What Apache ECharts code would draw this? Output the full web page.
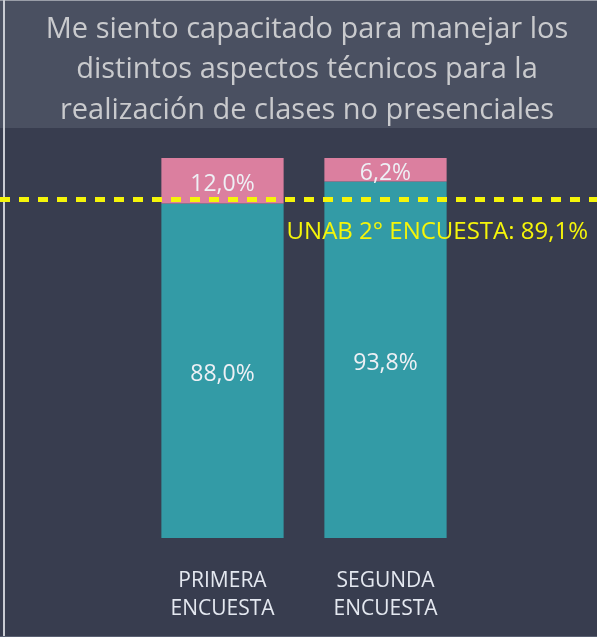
<!DOCTYPE html>
<html>
<head>
<meta charset="utf-8">
<script src="https://cdn.jsdelivr.net/npm/echarts@6/dist/echarts.min.js"></script>
<style>
  html, body { margin: 0; padding: 0; background: #383d4f; }
  #main { width: 597px; height: 637px; }
</style>
</head>
<body>
<div id="main"></div>
<script>
var categories = ['PRIMERA\nENCUESTA', 'SEGUNDA\nENCUESTA'];
var agreeValues = [88.0, 93.8];
var restValues = [12.0, 6.2];
var unabValue = 89.1;
var unabLabel = 'UNAB 2° ENCUESTA: ';

function pct(v) {
  return v.toFixed(1).replace('.', ',') + '%';
}

var chart = echarts.init(document.getElementById('main'));
var option = {
  backgroundColor: '#383d4f',
  textStyle: { fontFamily: 'Open Sans' },
  title: {
    text: 'Me siento capacitado para manejar los\ndistintos aspectos técnicos para la\nrealización de clases no presenciales',
    left: 302,
    top: 4,
    textAlign: 'center',
    textStyle: {
      color: '#c9cacd',
      fontSize: 29,
      fontWeight: 'normal',
      lineHeight: 40.5,
      fontFamily: 'Open Sans'
    }
  },
  graphic: [
    { type: 'rect', z: -10, shape: { x: 0, y: 0, width: 597, height: 128 }, style: { fill: '#4a5061' } },
    { type: 'rect', z: -5, shape: { x: 0, y: 0, width: 597, height: 1 }, style: { fill: '#9a9ea8' } },
    { type: 'rect', z: -5, shape: { x: 3, y: 0, width: 2, height: 637 }, style: { fill: '#c9ccd3' } },
    { type: 'rect', z: -5, shape: { x: 0, y: 636, width: 597, height: 1 }, style: { fill: '#5a6072' } }
  ],
  grid: [
    { left: 141, width: 326, top: 158, bottom: 99 },
    { left: 0, right: 0, top: 158, bottom: 99 }
  ],
  xAxis: [{
    type: 'category',
    gridIndex: 0,
    data: categories,
    axisLine: { show: false },
    axisTick: { show: false },
    axisLabel: {
      color: '#e4e8f0',
      fontSize: 21,
      lineHeight: 28,
      margin: 29
    }
  }, {
    type: 'category',
    gridIndex: 1,
    data: ['a'],
    show: false
  }],
  yAxis: [{
    type: 'value',
    gridIndex: 0,
    min: 0,
    max: 100,
    show: false
  }, {
    type: 'value',
    gridIndex: 1,
    min: 0,
    max: 100,
    show: false
  }],
  series: [{
    type: 'bar',
    stack: 'total',
    data: agreeValues,
    barWidth: '75%',
    itemStyle: { color: '#339ba6' },
    label: {
      show: true,
      position: 'inside',
      offset: [0, 4],
      color: '#eef0f5',
      fontSize: 23,
      formatter: function (p) { return pct(p.value); }
    }
  }, {
    type: 'bar',
    stack: 'total',
    data: restValues,
    barWidth: '75%',
    itemStyle: { color: '#db7f9f' },
    label: {
      show: true,
      position: 'inside',
      offset: [0, 4],
      color: '#eef0f5',
      fontSize: 23,
      formatter: function (p) { return pct(p.value); }
    }
  }, {
    type: 'line',
    xAxisIndex: 1,
    yAxisIndex: 1,
    data: [],
    z: 5,
    markLine: {
      symbol: 'none',
      silent: true,
      lineStyle: { color: '#f5f50a', type: [10, 9], width: 5 },
      label: {
        show: true,
        position: 'insideEndBottom',
        distance: [9, 21],
        color: '#f5f50a',
        fontSize: 24,
        formatter: function () { return unabLabel + pct(unabValue); }
      },
      data: [{ yAxis: unabValue }]
    }
  }]
};
chart.setOption(option);
</script>
</body>
</html>
